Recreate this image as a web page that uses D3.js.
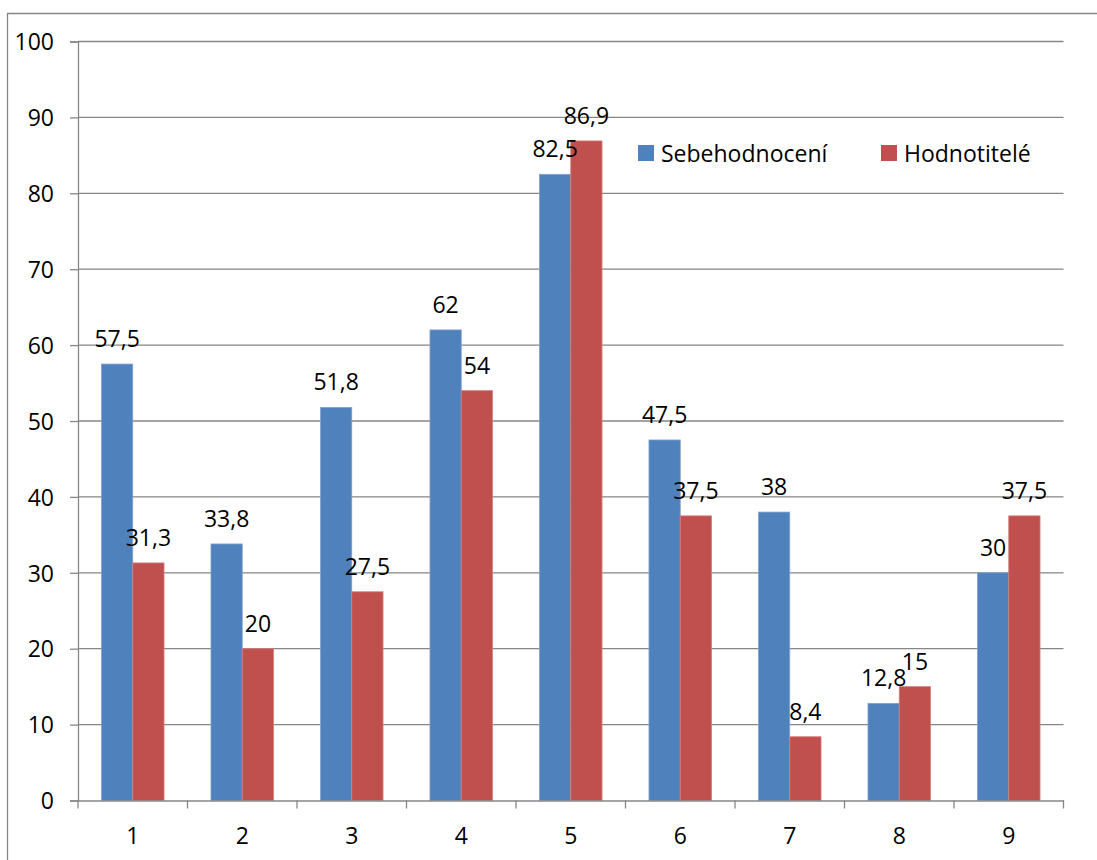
<!DOCTYPE html>
<html>
<head>
<meta charset="utf-8">
<script src="https://cdn.jsdelivr.net/npm/d3@7"></script>
<style>
  html, body { margin: 0; padding: 0; background: #fff; }
  svg { display: block; }
  text { font-family: "Open Sans", "Liberation Sans", sans-serif; fill: #000; }
</style>
</head>
<body>
<svg id="chart" width="1097" height="860"></svg>
<script>
const categories = ["1", "2", "3", "4", "5", "6", "7", "8", "9"];
const seriesNames = ["Sebehodnocení", "Hodnotitelé"];
const sebehodnoceni = [57.5, 33.8, 51.8, 62, 82.5, 47.5, 38, 12.8, 30];
const hodnotitele = [31.3, 20, 27.5, 54, 86.9, 37.5, 8.4, 15, 37.5];
const yTicks = [0, 10, 20, 30, 40, 50, 60, 70, 80, 90, 100];
const labelText = ["57,5","33,8","51,8","62","82,5","47,5","38","12,8","30"];
const labelText2 = ["31,3","20","27,5","54","86,9","37,5","8,4","15","37,5"];
const colors = ["#4F81BD", "#C0504D"];

const FS = 23;
const svg = d3.select("#chart");
const mLeft = 78, mRight = 1063.5, mTop = 41.5, mBottom = 800.5;
const gridColor = "#868686";

// outer chart border
svg.append("path")
  .attr("d", `M7.5,870 V13.5 H1110`)
  .attr("fill", "none").attr("stroke", gridColor).attr("stroke-width", 1.3);

const y = d3.scaleLinear().domain([0, 100]).range([mBottom, mTop]);
const x = d3.scaleBand().domain(categories).range([mLeft, mRight]).paddingInner(0).paddingOuter(0);
const inner = d3.scaleBand().domain(seriesNames).range([0, x.bandwidth()]).paddingInner(0).paddingOuter(0.75);

// gridlines
svg.append("g").selectAll("line").data(yTicks.filter(d => d > 0)).join("line")
  .attr("x1", mLeft).attr("x2", mRight)
  .attr("y1", d => y(d)).attr("y2", d => y(d))
  .attr("stroke", gridColor).attr("stroke-width", 1.3);

// y axis
const yAxis = d3.axisLeft(y).tickValues(yTicks).tickSize(8).tickPadding(16).tickFormat(d3.format("d"));
const gy = svg.append("g").attr("transform", `translate(${mLeft},0)`).call(yAxis);
gy.select(".domain").attr("stroke", gridColor).attr("stroke-width", 1.3);
gy.selectAll(".tick line").attr("stroke", gridColor).attr("stroke-width", 1.3);
gy.selectAll(".tick text").attr("font-size", FS).attr("font-family", "Open Sans").attr("fill", "#000").attr("dy", "0.36em");

// bars
const data = categories.map((c, i) => ({ c, vals: [sebehodnoceni[i], hodnotitele[i]], labs: [labelText[i], labelText2[i]] }));
const groups = svg.append("g").selectAll("g").data(data).join("g")
  .attr("transform", d => `translate(${x(d.c)},0)`);
groups.selectAll("rect").data(d => d.vals.map((v, k) => ({ v, k }))).join("rect")
  .attr("x", d => inner(seriesNames[d.k]))
  .attr("width", inner.bandwidth())
  .attr("y", d => y(d.v))
  .attr("height", d => y(0) - y(d.v))
  .attr("fill", d => colors[d.k])
  .attr("stroke", d => d.k === 0 ? "#7FA2CF" : "#D0807E")
  .attr("stroke-width", 0.8);

// x axis
const xAxis = d3.axisBottom(x).tickSize(0).tickPadding(27);
const gx = svg.append("g").attr("transform", `translate(0,${mBottom})`).call(xAxis);
gx.select(".domain").attr("stroke", gridColor).attr("stroke-width", 1.3);
gx.selectAll(".tick text").attr("font-size", FS).attr("font-family", "Open Sans").attr("fill", "#000");
// category boundary tick marks
svg.append("g").selectAll("line").data(categories.concat(["end"])).join("line")
  .attr("x1", (d, i) => i < categories.length ? x(d) : mRight)
  .attr("x2", (d, i) => i < categories.length ? x(d) : mRight)
  .attr("y1", mBottom).attr("y2", mBottom + 8)
  .attr("stroke", gridColor).attr("stroke-width", 1.3);

// data labels
groups.selectAll("text.lbl").data(d => d.labs.map((t, k) => ({ t, k, v: d.vals[k] }))).join("text")
  .attr("class", "lbl")
  .attr("x", d => inner(seriesNames[d.k]) + inner.bandwidth() / 2)
  .attr("y", d => y(d.v) - 17)
  .attr("text-anchor", "middle")
  .attr("font-size", FS)
  .text(d => d.t);

// legend
const legendX = [638, 881];
const lg = svg.append("g").selectAll("g").data(seriesNames).join("g")
  .attr("transform", (d, i) => `translate(${legendX[i]},145)`);
lg.append("rect").attr("width", 16).attr("height", 16).attr("fill", (d, i) => colors[i]);
lg.append("text").attr("x", 23).attr("y", 16.5).attr("font-size", FS).text(d => d);
</script>
</body>
</html>
